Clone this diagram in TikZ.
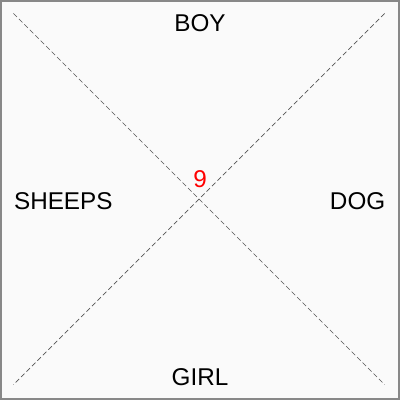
\documentclass[tikz,border=0pt]{standalone}
\usepackage{fontspec}
\setmainfont{Liberation Sans}
\definecolor{marco}{HTML}{888888}
\definecolor{fondo}{HTML}{FAFAFA}
\definecolor{trazo}{HTML}{555555}
\tikzset{
  etiqueta/.style={font=\fontsize{17.3}{20}\selectfont, text=black, inner sep=0pt},
  cifra/.style={font=\fontsize{17.3}{20}\selectfont, text=red, inner sep=0pt},
  diagonal/.style={draw=trazo, line width=0.5pt, dash pattern=on 3.5pt off 2pt}
}
\begin{document}
\begin{tikzpicture}[x=0.025cm, y=-0.025cm]
  \draw [draw=marco, fill=fondo, line width=1.4pt] (0.5,0.5) rectangle (399.5,399.5);
  \coordinate (no) at (13,13);
  \coordinate (ne) at (385,13);
  \coordinate (so) at (13,385);
  \coordinate (se) at (385,385);
  \draw [diagonal] (no) -- (se);
  \draw [diagonal] (ne) -- (so);
  \node (boy) [etiqueta] at (200,23) {BOY};
  \node (girl) [etiqueta] at (200,378) {GIRL};
  \node (sheeps) [etiqueta] at (63,201) {SHEEPS};
  \node (dog) [etiqueta] at (358,201) {DOG};
  \node (nueve) [cifra] at (200,179) {9};
\end{tikzpicture}
\end{document}
